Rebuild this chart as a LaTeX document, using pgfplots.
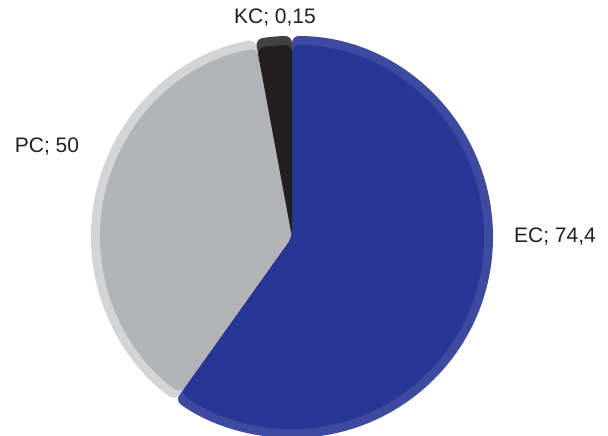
\documentclass[border=0pt]{standalone}
\usepackage{pgfplots}
\pgfplotsset{compat=1.18}
\usepackage{fontspec}
\setmainfont{Liberation Sans}
\definecolor{ecmain}{RGB}{40,54,150}
\definecolor{ecrim}{RGB}{62,74,160}
\definecolor{pcmain}{RGB}{178,179,182}
\definecolor{pcrim}{RGB}{211,212,214}
\definecolor{kcmain}{RGB}{35,31,32}
\definecolor{kcrim}{RGB}{66,66,66}
\definecolor{txt}{RGB}{35,31,32}
% slice: start angle, end angle, radius, colour
\newcommand{\slice}[4]{%
  \fill[#4, rounded corners=7bp] (axis cs:292,199) -- ([shift={(#1:#3)}]axis cs:292,199)
     arc[start angle=#1, end angle=#2, radius=#3] -- cycle;}
\begin{document}
\begin{tikzpicture}
\begin{axis}[name=ax, width=608bp, height=436bp, scale only axis,
  xmin=0, xmax=608, ymin=0, ymax=436, hide axis]
% values shown: EC 74.4, PC 50, KC 0.15 ; drawn angles (deg) below
% rims
\slice{90}{-125.5}{201bp}{ecrim}
\slice{100.5}{234.5}{201bp}{pcrim}
\slice{90}{100.5}{201bp}{kcrim}
% main slices
\slice{90}{-125.5}{192bp}{ecmain}
\slice{100.5}{234.5}{192bp}{pcmain}
\slice{90}{100.5}{192bp}{kcmain}
% labels
\node[txt, font=\fontsize{21bp}{25bp}\selectfont] at (axis cs:555,199) {EC; 74,4};
\node[txt, font=\fontsize{21bp}{25bp}\selectfont] at (axis cs:47,289) {PC; 50};
\node[txt, font=\fontsize{21bp}{25bp}\selectfont] at (axis cs:275,418) {KC; 0,15};
\end{axis}
\pgfresetboundingbox
\useasboundingbox (ax.south west) rectangle (ax.north east);
\end{tikzpicture}
\end{document}
